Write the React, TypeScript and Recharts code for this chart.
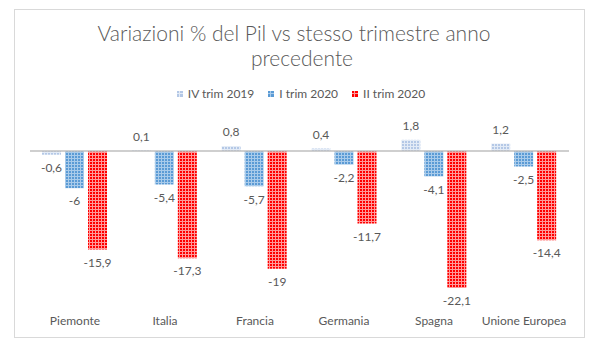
import React from 'react';
import { BarChart, Bar, XAxis, YAxis, ReferenceLine, LabelList } from 'recharts';

const categories = ['Piemonte', 'Italia', 'Francia', 'Germania', 'Spagna', 'Unione Europea'];
const ivTrim2019 = [-0.6, 0.1, 0.8, 0.4, 1.8, 1.2];
const iTrim2020 = [-6, -5.4, -5.7, -2.2, -4.1, -2.5];
const iiTrim2020 = [-15.9, -17.3, -19, -11.7, -22.1, -14.4];
const seriesNames = ['IV trim 2019', 'I trim 2020', 'II trim 2020'];

const data = categories.map((name, i) => ({
  name,
  s1: ivTrim2019[i],
  s2: iTrim2020[i],
  s3: iiTrim2020[i],
}));

const FONT = 'Lato, "Open Sans", sans-serif';
const TEXT = '#595959';

const series = [
  { key: 's1', name: seriesNames[0], pattern: 'pat-light', base: '#b4c8e6', grid: '#e3ebf6' },
  { key: 's2', name: seriesNames[1], pattern: 'pat-blue', base: '#5b9bd5', grid: '#a9cbea' },
  { key: 's3', name: seriesNames[2], pattern: 'pat-red', base: '#ff0000', grid: '#ff9a9a' },
];

const fmt = (v: number) => String(v).replace('.', ',');

const ValueLabel = (props: any) => {
  const { x, y, width, height, value } = props;
  const top = Math.min(y, y + height);
  const bottom = Math.max(y, y + height);
  const ly = value < 0 ? bottom + 13 : top - 14;
  return (
    <text
      x={x + width / 2}
      y={ly}
      dy="0.35em"
      textAnchor="middle"
      fill={TEXT}
      fontSize={12}
      fontFamily={FONT}
    >
      {fmt(value)}
    </text>
  );
};

const CategoryTick = (props: any) => {
  const { x, payload } = props;
  return (
    <text
      x={Math.round(x)}
      y={321}
      dy="0.35em"
      textAnchor="middle"
      fill={TEXT}
      stroke="none"
      fontSize={12}
      fontWeight={400}
      fontFamily={FONT}
    >
      {payload.value}
    </text>
  );
};

const App = () => {
  return (
    <div
      style={{
        position: 'absolute',
        left: 0,
        top: 0,
        width: 596,
        height: 353,
        background: '#fff',
        fontFamily: FONT,
      }}
    >
      <div
        style={{
          position: 'absolute',
          left: 14,
          top: 9,
          width: 569,
          height: 327,
          border: '1px solid #d9d9d9',
        }}
      />
      <div
        style={{
          position: 'absolute',
          left: 0,
          width: 588,
          top: 20,
          textAlign: 'center',
          fontSize: 21,
          fontWeight: 300,
          color: TEXT,
          lineHeight: '25px',
          whiteSpace: 'nowrap',
        }}
      >
        Variazioni % del Pil vs stesso trimestre anno
      </div>
      <div
        style={{
          position: 'absolute',
          left: 0,
          width: 604,
          top: 45,
          textAlign: 'center',
          fontSize: 21,
          fontWeight: 300,
          color: TEXT,
          lineHeight: '25px',
        }}
      >
        precedente
      </div>
      <div
        style={{
          position: 'absolute',
          left: 0,
          width: 602,
          top: 86,
          display: 'flex',
          justifyContent: 'center',
          gap: 14,
          fontSize: 12,
          color: TEXT,
          lineHeight: '15px',
        }}
      >
        {series.map((s) => (
          <div key={s.key} style={{ display: 'flex', alignItems: 'center' }}>
            <svg width={6} height={6} style={{ marginRight: 5 }}>
              <rect width={6} height={6} fill={s.base} />
              <line x1={2.5} y1={0} x2={2.5} y2={6} stroke={s.grid} strokeWidth={1} />
              <line x1={0} y1={2.5} x2={6} y2={2.5} stroke={s.grid} strokeWidth={1} />
            </svg>
            <span>{s.name}</span>
          </div>
        ))}
      </div>
      <div style={{ position: 'absolute', left: 0, top: 0 }}>
        <BarChart
          width={596}
          height={353}
          data={data}
          margin={{ top: 120, right: 27, bottom: 17, left: 30 }}
          barSize={19}
          barGap={4}
        >
          <defs>
            {series.map((s) => (
              <pattern
                key={s.pattern}
                id={s.pattern}
                width={3}
                height={3}
                patternUnits="userSpaceOnUse"
              >
                <rect width={3} height={3} fill={s.base} />
                <rect x={2} y={0} width={1} height={3} fill={s.grid} />
                <rect x={0} y={2} width={3} height={1} fill={s.grid} />
              </pattern>
            ))}
          </defs>
          <XAxis
            dataKey="name"
            axisLine={false}
            tickLine={false}
            height={30}
            interval={0}
            tick={<CategoryTick />}
          />
          <YAxis hide domain={[-25, 5]} />
          {series.map((s) => (
            <Bar
              key={s.key}
              dataKey={s.key}
              name={s.name}
              fill={`url(#${s.pattern})`}
              isAnimationActive={false}
            >
              <LabelList dataKey={s.key} content={ValueLabel} />
            </Bar>
          ))}
          <ReferenceLine y={0} stroke="#bfbfbf" strokeWidth={1.5} />
        </BarChart>
      </div>
    </div>
  );
};

export default App;
